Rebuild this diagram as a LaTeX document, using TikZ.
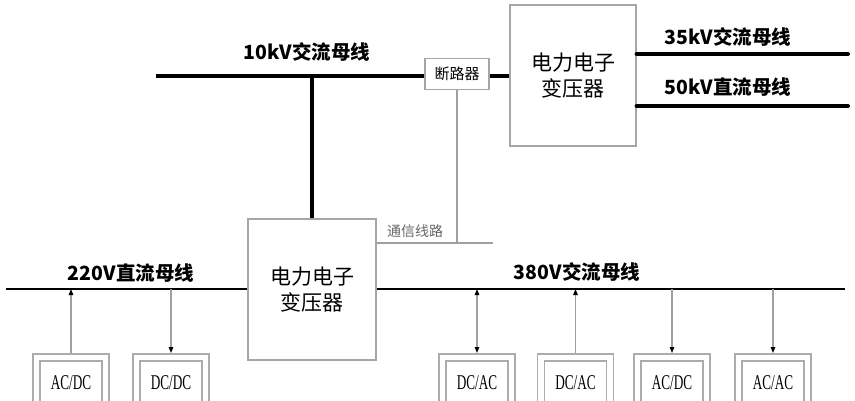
\documentclass[tikz,border=0pt]{standalone}
\usepackage{fontspec}
\setmainfont{Liberation Serif}
\newfontfamily\cjk{Noto Sans CJK SC}
\usetikzlibrary{arrows.meta}
\begin{document}
\begin{tikzpicture}[x=1pt,y=-1pt,
  >={Triangle[length=6pt,width=4.5pt,color=black]},
  hbus/.style={line width=4pt,black},
  lbus/.style={line width=2.8pt,black},
  thinline/.style={draw=gray!75,line width=1.1pt},
  petbox/.style={draw=gray!70,line width=1.2pt,fill=white,align=center,inner sep=0pt,
    font=\cjk\fontsize{21}{26}\selectfont},
  brkbox/.style={draw=gray!70,line width=1.2pt,fill=white,inner sep=0pt,
    minimum width=64pt,minimum height=31pt,font=\cjk\fontsize{15}{18}\selectfont},
  buslabel/.style={font=\cjk\bfseries\fontsize{19.5}{24}\selectfont,inner sep=0pt},
  commlabel/.style={font=\cjk\fontsize{14}{16}\selectfont,text=gray!80!black,inner sep=0pt},
  outerbox/.style={draw=gray!65,line width=1.8pt,minimum width=76pt,minimum height=60pt,
    anchor=north,inner sep=0pt},
  innerbox/.style={draw=gray!65,line width=1.3pt,minimum width=62pt,minimum height=44pt,
    inner sep=0pt,font=\fontsize{21}{24}\selectfont},
  conv/.style={draw=gray!75,line width=1.2pt}
]
\useasboundingbox (0,0) rectangle (855,400);
\clip (0,0) rectangle (855,400);
\fill[white] (0,0) rectangle (855,400);

% boxes
\node[petbox,minimum width=126pt,minimum height=141pt] (pet1) at (573,75.5) {电力电子\\变压器};
\node[petbox,minimum width=128pt,minimum height=141pt] (pet2) at (312,289.5) {电力电子\\变压器};
\node[brkbox] (brk) at (457,74) {断路器};

% bus coordinates
\coordinate (b10) at (156,75.5);
\coordinate (b35) at (848,54);
\coordinate (b50) at (848,106);
\coordinate (b220) at (6,289);
\coordinate (b380) at (845,289);
\coordinate (comm) at (493,243);

% 10kV bus
\draw[hbus] (b10) -- (b10 -| brk.west);
\draw[hbus] (brk.east |- b10) -- (pet1.west |- b10);
\draw[hbus] (pet2.north) -- (pet2.north |- b10);
% 35kV / 50kV
\draw[hbus,line cap=round] (pet1.east |- b35) -- (b35);
\draw[hbus,line cap=round] (pet1.east |- b50) -- (b50);
% low buses
\draw[lbus] (b220) -- (pet2.west |- b220);
\draw[lbus] (pet2.east |- b380) -- (b380);
% comm line
\draw[thinline] (brk.south) -- (brk.south |- comm);
\draw[thinline] (pet2.east |- comm) -- (comm);

% labels
\node[buslabel] (l10) at (307,52) {10kV交流母线};
\node[buslabel] (l35) at (728,37) {35kV交流母线};
\node[buslabel] (l50) at (728,87) {50kV直流母线};
\node[buslabel] (l220) at (131,273) {220V直流母线};
\node[buslabel] (l380) at (577,272) {380V交流母线};
\node[commlabel] (lcomm) at (415,231) {通信线路};

% converter boxes
\newcommand{\convbox}[3]{%
  \node[outerbox] (#1) at (#2,353) {};
  \node[innerbox] (#1i) at (#2,383) {\scalebox{0.63}[1]{#3}};
}
\convbox{c1}{71}{AC/DC}
\convbox{c2}{171}{DC/DC}
\convbox{c3}{477}{DC/AC}
\convbox{c4}{575.5}{DC/AC}
\convbox{c5}{672}{AC/DC}
\convbox{c6}{773}{AC/AC}

% connectors
\draw[conv,->] (c1.north) -- (c1.north |- b220);
\draw[conv,<-] (c2.north) -- (c2.north |- b220);
\draw[conv,<->] (c3.north) -- (c3.north |- b380);
\draw[conv,->] (c4.north) -- (c4.north |- b380);
\draw[conv,<-] (c5.north) -- (c5.north |- b380);
\draw[conv,<-] (c6.north) -- (c6.north |- b380);
\end{tikzpicture}
\end{document}
